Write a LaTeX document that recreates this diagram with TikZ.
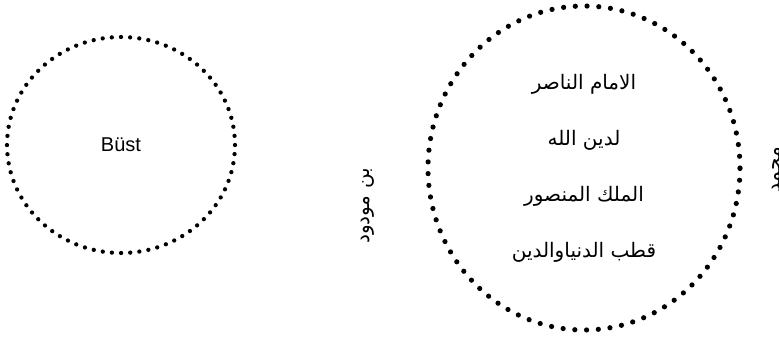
\documentclass[tikz,border=0pt]{standalone}
\usepackage{fontspec}
\setmainfont{Liberation Sans}
\newfontfamily\arabicfont[Script=Arabic]{DejaVu Sans}
\TeXXeTstate=1
\usetikzlibrary{shapes.geometric}
\tikzset{
  dotring/.style={ellipse, draw, line cap=round, inner sep=0pt},
  smalldots/.style={line width=4.3pt, dash pattern=on 0pt off 9.18pt},
  bigdots/.style={line width=5.2pt, dash pattern=on 0pt off 11.75pt},
  sidelabel/.style={font=\arabicfont\fontsize{20}{24}\selectfont, rotate=90, anchor=base, inner sep=0pt},
}
\begin{document}
\begin{tikzpicture}[x=1pt,y=-1pt]
\useasboundingbox (0,0) rectangle (779,337);
\node[dotring, smalldots, minimum width=228pt, minimum height=216pt,
      font=\fontsize{20}{24}\selectfont] (bust) at (121,145) {Büst};
\node[dotring, bigdots, minimum width=312pt, minimum height=324pt, align=center,
      font=\arabicfont\fontsize{20}{56}\selectfont] (titles) at (584,168)
  {\beginR الامام الناصر\endR\\
   \beginR لدين الله\endR\\
   \beginR الملك المنصور\endR\\
   \beginR قطب الدنياوالدين\endR};
\node[sidelabel] (ibn) at (369,206) {\beginR بن مودود\endR};
\node[sidelabel] (muh) at (780,170) {\beginR محمد\endR};
\end{tikzpicture}
\end{document}
